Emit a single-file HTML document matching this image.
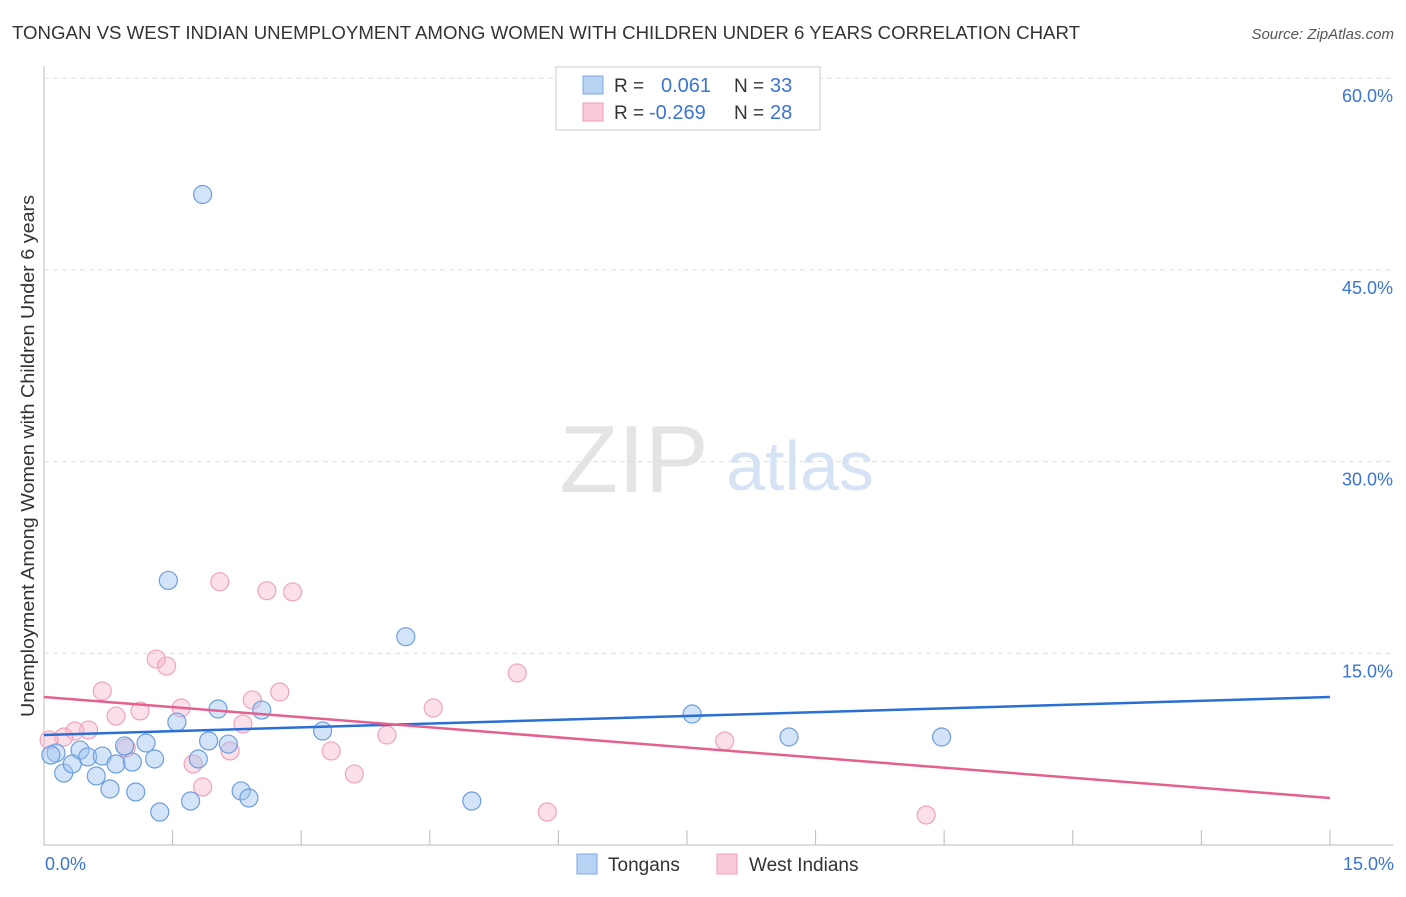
<!DOCTYPE html>
<html><head><meta charset="utf-8"><style>
body{margin:0;background:#fff;font-family:"Liberation Sans",sans-serif;}
svg text{font-family:"Liberation Sans",sans-serif;}
</style></head><body>
<svg id="chart" width="1406" height="892">
<text x="12" y="39" font-size="18" fill="#333" textLength="1068" lengthAdjust="spacingAndGlyphs">TONGAN VS WEST INDIAN UNEMPLOYMENT AMONG WOMEN WITH CHILDREN UNDER 6 YEARS CORRELATION CHART</text>
<text x="1394" y="39" font-size="15" fill="#555" font-style="italic" text-anchor="end">Source: ZipAtlas.com</text>
<text x="634" y="492" font-size="96" fill="#e4e4e4" font-family="Liberation Serif" text-anchor="middle">ZIP</text>
<text x="800" y="490" font-size="70" fill="#d6e3f5" text-anchor="middle">atlas</text>
<text transform="translate(34,456) rotate(-90)" font-size="18" fill="#333" text-anchor="middle" textLength="522" lengthAdjust="spacingAndGlyphs">Unemployment Among Women with Children Under 6 years</text>
<g id="grid"></g><g id="marks"></g>
<g>
<rect x="556" y="67" width="264" height="63" fill="#fff" stroke="#ccc"/>
<rect x="583" y="76" width="20" height="18" fill="#b9d3f5" stroke="#7aa7e3"/>
<rect x="583" y="103" width="20" height="18" fill="#f9c9d8" stroke="#ef9fba"/>
<text x="614" y="92" font-size="19" fill="#333">R =</text><text x="661" y="92" font-size="20" fill="#3a74d4">0.061</text>
<text x="734" y="92" font-size="19" fill="#333">N =</text><text x="770" y="92" font-size="20" fill="#3a74d4">33</text>
<text x="614" y="119" font-size="19" fill="#333">R =</text><text x="649" y="119" font-size="20" fill="#3a74d4">-0.269</text>
<text x="734" y="119" font-size="19" fill="#333">N =</text><text x="770" y="119" font-size="20" fill="#3a74d4">28</text>
</g>
<g>
<rect x="577" y="854" width="20" height="20" fill="#b9d3f5" stroke="#7aa7e3"/>
<text x="608" y="871" font-size="19" fill="#333">Tongans</text>
<rect x="717" y="854" width="20" height="20" fill="#f9c9d8" stroke="#ef9fba"/>
<text x="749" y="871" font-size="19" fill="#333">West Indians</text>
</g>
</svg>
<script>
const blueX=[1.85,1.45,4.22,7.56,8.69,10.47,4.99,3.25,2.54,2.03,1.55,1.92,2.15,1.19,0.94,0.42,0.14,0.51,0.68,0.84,1.03,1.29,1.80,0.23,0.61,0.77,1.07,2.30,2.39,1.71,1.35,0.33,0.08];
const blueY=[50.9,20.7,16.3,10.25,8.45,8.45,3.44,8.92,10.56,10.64,9.62,8.14,7.90,7.98,7.75,7.43,7.20,6.89,6.96,6.34,6.49,6.73,6.73,5.63,5.40,4.38,4.15,4.23,3.68,3.44,2.58,6.34,7.04];
const pinkX=[2.05,2.60,2.90,1.31,1.43,5.52,0.68,1.60,1.12,0.84,2.43,2.75,4.54,2.32,4.00,0.52,0.36,0.23,0.06,0.96,2.17,3.35,1.74,3.62,1.85,5.87,7.94,10.29];
const pinkY=[20.6,19.9,19.8,14.55,14.0,13.46,12.05,10.72,10.49,10.09,11.35,11.97,10.72,9.47,8.61,9.0,8.92,8.45,8.22,7.59,7.36,7.36,6.34,5.56,4.54,2.58,8.14,2.35];
const blueLine=[8.61,11.58];
const pinkLine=[11.58,3.68];
const yTicks=[15,30,45,60];
const xTickLabels=["0.0%","15.0%"];
const NS="http://www.w3.org/2000/svg";
const sx=v=>44+v*85.73, sy=v=>845-v*12.78;
const grid=document.getElementById('grid'), marks=document.getElementById('marks');
function mk(p,tag,a){const e=document.createElementNS(NS,tag);for(const k in a)e.setAttribute(k,a[k]);p.appendChild(e);return e;}
const ax=mk(grid,'line',{x1:44,y1:66,x2:44,y2:845,stroke:'#bbb'});


const bx=mk(grid,'line',{x1:44,y1:845,x2:1393,y2:845,stroke:'#bbb'});


yTicks.forEach(t=>{
 const g=mk(grid,'line',{x1:44,x2:1393,y1:sy(t),y2:sy(t),stroke:'#ddd','stroke-dasharray':'5,4'});
 
 
 const l=mk(grid,'text',{x:1393,y:sy(t)+24,'font-size':18,fill:'#3a74d4','text-anchor':'end'});
 l.textContent=t.toFixed(1)+'%';
 
 
});
for(let i=1;i<=10;i++){
 const t=mk(grid,'line',{x1:sx(i*1.5),x2:sx(i*1.5),y1:830,y2:845,stroke:'#bbb'});
 
 
}
[[0,'start',45],[15,'end',1394]].forEach((d,i)=>{
 const l=mk(grid,'text',{x:d[2],y:870,'font-size':18,fill:'#3a74d4','text-anchor':d[1]});
 l.textContent=xTickLabels[i];
 
 
});
function pts(X,Y,fill,stroke,name){
 X.forEach((x,i)=>{
  const c=mk(marks,'circle',{cx:sx(x),cy:sy(Y[i]),r:9,fill:fill,stroke:stroke,'stroke-width':1.2});
  
  
 });
}
pts(pinkX,pinkY,'rgba(246,175,199,0.4)','#f0a3be','west-indian-point');
pts(blueX,blueY,'rgba(160,196,240,0.45)','#6b9ee0','tongan-point');
const bl=mk(marks,'line',{x1:sx(0),y1:sy(blueLine[0]),x2:sx(15),y2:sy(blueLine[1]),stroke:'#2a6fd6','stroke-width':2.5});


const pl=mk(marks,'line',{x1:sx(0),y1:sy(pinkLine[0]),x2:sx(15),y2:sy(pinkLine[1]),stroke:'#e4608e','stroke-width':2.5});


</script>
</body></html>
